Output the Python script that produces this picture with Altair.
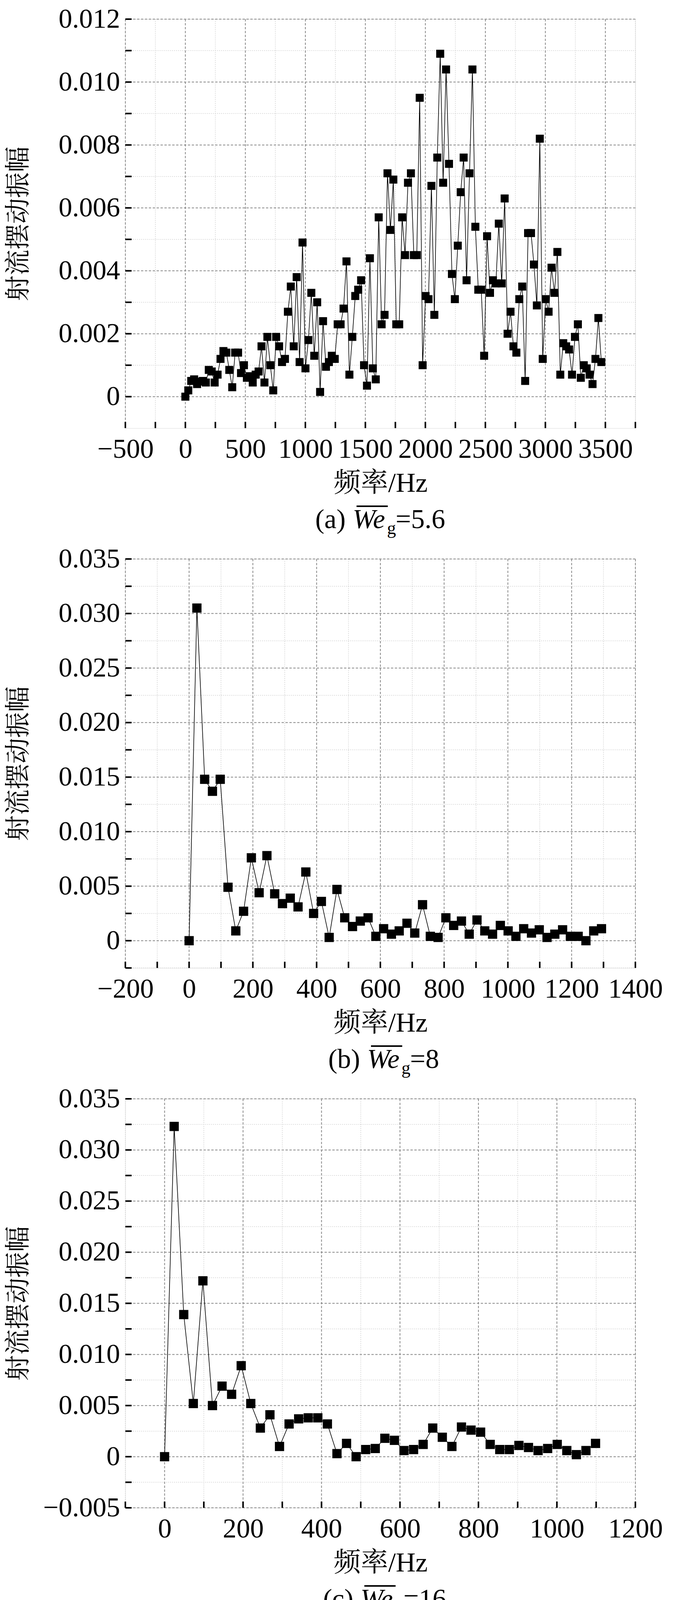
import altair as alt
import numpy as np
import pandas as pd

alt.data_transformers.disable_max_rows()

FONT = "Liberation Serif, Noto Serif CJK SC, Noto Sans CJK SC"
FS = 70
W = 1306
DF_HZ = 24.41  # 频率分辨率

# --- 各工况的射流摆动振幅 ---
amp_56 = [
    0, 0.0002, 0.0005, 0.00055, 0.0004, 0.00048, 0.0005, 0.00045, 0.00085, 0.0008,
    0.00045, 0.0007, 0.0012, 0.00145, 0.0014, 0.00085, 0.0003, 0.0014, 0.0014, 0.00075,
    0.001, 0.0006, 0.00065, 0.00045, 0.0007, 0.0008, 0.0016, 0.00045, 0.0019, 0.001,
    0.0002, 0.0019, 0.0016, 0.0011, 0.0012, 0.0027, 0.0035, 0.0016, 0.0038, 0.0011,
    0.0049, 0.0009,
    0.0018, 0.0033, 0.0013, 0.003, 0.00015, 0.0024, 0.00095, 0.0011, 0.0013, 0.0012,
    0.0023, 0.0023, 0.0028, 0.0043, 0.0007, 0.0019, 0.0032, 0.0034, 0.0037, 0.001,
    0.00035, 0.0044, 0.0009, 0.00055, 0.0057, 0.0023, 0.0026, 0.0071, 0.0053, 0.0069,
    0.0023, 0.0023, 0.0057, 0.0045, 0.0068, 0.0071, 0.0045, 0.0045, 0.0095, 0.001, 0.0032,
    0.0031, 0.0067, 0.0026, 0.0076, 0.0109, 0.0068, 0.0104, 0.0074, 0.0039, 0.0031,
    0.0048, 0.0065, 0.0076, 0.0037, 0.0071, 0.0104, 0.0054, 0.0034, 0.0034, 0.0013,
    0.0051, 0.0033, 0.0037, 0.0036, 0.0055, 0.0036, 0.0063, 0.002, 0.0027, 0.0016,
    0.0014, 0.0031, 0.0035, 0.0005, 0.0052, 0.0052, 0.0042, 0.0029, 0.0082, 0.0012,
    0.0031, 0.0027,
    0.0041, 0.0033, 0.0046, 0.0007, 0.0017, 0.0016, 0.0015, 0.0007, 0.0019, 0.0023,
    0.0006, 0.001, 0.0009, 0.0007, 0.0004, 0.0012, 0.0025, 0.0011,
]
amp_8 = [
    0, 0.0305, 0.0148, 0.0137, 0.0148, 0.0049, 0.0009, 0.0027, 0.0076, 0.0044,
    0.0078, 0.0043, 0.0034, 0.0039, 0.0031, 0.0063, 0.0025, 0.0036, 0.0003, 0.0047,
    0.0021, 0.0013, 0.0018, 0.0021, 0.0004, 0.0011, 0.0006, 0.0009, 0.0016, 0.0007,
    0.0033, 0.0004, 0.0003, 0.0021, 0.0014, 0.0018, 0.0006, 0.0019, 0.0009, 0.0006,
    0.0014, 0.0009, 0.0004, 0.0011, 0.0007, 0.001, 0.0003, 0.0006, 0.001, 0.0004,
    0.0004, 0.0, 0.0009, 0.0011,
]
amp_16 = [
    0, 0.0323, 0.0139, 0.0052, 0.0172, 0.0050, 0.0069, 0.0061, 0.0089, 0.0052,
    0.0028, 0.0041, 0.0010, 0.0032, 0.0037, 0.0038, 0.0038, 0.0032, 0.0003, 0.0013,
    0.0000, 0.0007, 0.0008, 0.0018, 0.0016, 0.0006, 0.0007, 0.0012, 0.0028, 0.0019,
    0.0010, 0.0029, 0.0026, 0.0024, 0.0012, 0.0007, 0.0007, 0.0011, 0.0009, 0.0006,
    0.0008, 0.0012, 0.0006, 0.0002, 0.0006, 0.0013,
]
amp_40 = [
    0, 0.0074, 0.0262, 0.0137, 0.0136, 0.0062, 0.0049, 0.0069, 0.0030, 0.0036,
    0.0009, 0.0048, 0.0096, 0.0027, 0.0085, 0.0087, 0.0061, 0.0044, 0.0052, 0.0060,
    0.0050, 0.0027, 0.0055, 0.0027, 0.0036, 0.0035, 0.0020, 0.0026, 0.0034, 0.0053,
    0.0016, 0.0022, 0.0017, 0.0037, 0.0004, 0.0018, 0.0012, 0.0009, 0.0005, 0.0008,
    0.0008, 0.0001, 0.0019, 0.0017, 0.0003, 0.0018, 0.0012, 0.0011, 0.0007, 0.0009,
    0.0007, 0.0011, 0.0018, 0.0009, 0.0005, 0.0024, 0.0007, 0.0006, 0.0011, 0.0016,
    0.0006, 0.0013, 0.0011, 0.0010, 0.0023, 0.0009, 0.0007, 0.0014, 0.0012, 0.0010,
    0.0015, 0.0009, 0.0005, 0.0001, 0.0009, 0.0014, 0.0017, 0.0006, 0.0015, 0.0012,
    0.0010, 0.0006, 0.0006, 0.0007, 0.0008, 0.0014, 0.0006, 0.0012, 0.0013, 0.0012,
    0.0013, 0.0015, 0.0016,
]

# 图(e)中各曲线延伸到约 3900 Hz 的尾段
tail_56 = [0.0009, 0.0006, 0.0012, 0.0008, 0.0005, 0.0017, 0.0007, 0.0004, 0.0009, 0.0006,
           0.0011, 0.0005, 0.0008, 0.0004, 0.0007, 0.0006, 0.0009, 0.0003, 0.0008]
tail_8 = [
    0.0006, 0.0003, 0.0008, 0.0002, 0.0005, 0.0001, 0.0004, 0.0007, 0.0002, 0.0003,
    0.0005, 0.0001, 0.0004, 0.0002, 0.0006, 0.0003, 0.0001, 0.0004, 0.0002, 0.0005,
    0.0003, 0.0002, 0.0001, 0.0004, 0.0003, 0.0002, 0.0005, 0.0001, 0.0003, 0.0002,
    0.0004, 0.0001, 0.0002, 0.0003, 0.0001, 0.0004, 0.0002, 0.0001, 0.0003, 0.0002,
    0.0001, 0.0003, 0.0002, 0.0004, 0.0001, 0.0002, 0.0003, 0.0001, 0.0002, 0.0004,
    0.0002, 0.0001, 0.0003, 0.0002, 0.0001, 0.0002, 0.0004, 0.0001, 0.0003, 0.0002,
    0.0001, 0.0002, 0.0003, 0.0001, 0.0002, 0.0001, 0.0003, 0.0002, 0.0001, 0.0004,
    0.0002, 0.0001, 0.0002, 0.0003, 0.0001, 0.0002, 0.0001, 0.0003, 0.0002, 0.0001,
    0.0002, 0.0003, 0.0001, 0.0002, 0.0001, 0.0002, 0.0003, 0.0001, 0.0002, 0.0001,
    0.0003, 0.0002, 0.0001, 0.0002, 0.0001, 0.0003, 0.0002, 0.0001, 0.0002, 0.0003,
    0.0001, 0.0002, 0.0001, 0.0002, 0.0003, 0.0002,
]
tail_16 = [
    0.0008, 0.0005, 0.0003, 0.0006, 0.0004, 0.0002, 0.0005, 0.0003, 0.0006, 0.0002,
    0.0004, 0.0003, 0.0005, 0.0002, 0.0004, 0.0003, 0.0002, 0.0005, 0.0003, 0.0004,
    0.0002, 0.0003, 0.0005, 0.0002, 0.0003, 0.0004, 0.0002, 0.0003, 0.0002, 0.0004,
    0.0003, 0.0002, 0.0004, 0.0003, 0.0002, 0.0003, 0.0006, 0.0002, 0.0003, 0.0002,
    0.0004, 0.0003, 0.0002, 0.0003, 0.0002, 0.0004, 0.0002, 0.0003, 0.0002, 0.0003,
    0.0002, 0.0004, 0.0003, 0.0002, 0.0003, 0.0002, 0.0003, 0.0004, 0.0002, 0.0003,
    0.0002, 0.0003, 0.0002, 0.0004, 0.0002, 0.0003, 0.0002, 0.0003, 0.0004, 0.0002,
    0.0003, 0.0002, 0.0003, 0.0002, 0.0004, 0.0003, 0.0002, 0.0003, 0.0002, 0.0003,
    0.0004, 0.0002, 0.0003, 0.0002, 0.0003, 0.0002, 0.0004, 0.0003, 0.0002, 0.0003,
    0.0002, 0.0003, 0.0004, 0.0002, 0.0003, 0.0002, 0.0003, 0.0002, 0.0004, 0.0003,
    0.0002, 0.0003, 0.0002, 0.0003, 0.0004, 0.0002, 0.0003, 0.0002, 0.0003, 0.0002,
    0.0004, 0.0003, 0.0002, 0.0001,
]
tail_40 = [
    0.0012, 0.0006, 0.0009, 0.0004, 0.0011, 0.0007, 0.0013, 0.0005, 0.0008, 0.0010,
    0.0004, 0.0009, 0.0006, 0.0012, 0.0005, 0.0008, 0.0003, 0.0010, 0.0006, 0.0004,
    0.0009, 0.0005, 0.0007, 0.0003, 0.0008, 0.0006, 0.0004, 0.0009, 0.0005, 0.0007,
    0.0003, 0.0006, 0.0008, 0.0004, 0.0005, 0.0007, 0.0003, 0.0006, 0.0004, 0.0008,
    0.0005, 0.0003, 0.0006, 0.0004, 0.0007, 0.0002, 0.0005, 0.0004, 0.0006, 0.0003,
    0.0005, 0.0002, 0.0004, 0.0006, 0.0003, 0.0005, 0.0002, 0.0004, 0.0003, 0.0006,
    0.0002, 0.0004, 0.0003, 0.0005, 0.0002, 0.0004, 0.0003, 0.0005,
]

series_names = ["5.6", "8", "16", "40"]
colors_e = ["#404040", "#e8332a", "#1f6fe0", "#2ca05a"]
shapes_e = ["square", "circle", "triangle-up", "triangle-down"]


def to_df(amp, name):
    return pd.DataFrame({"f": np.arange(len(amp)) * DF_HZ, "a": amp, "s": name})


def rules_x(vals, dash, color, width, H):
    return alt.Chart(pd.DataFrame({"v": vals})).mark_rule(
        strokeDash=dash, color=color, strokeWidth=width
    ).encode(x="v:Q", y=alt.value(0), y2=alt.value(H))


def rules_y(vals, dash, color, width):
    return alt.Chart(pd.DataFrame({"v": vals})).mark_rule(
        strokeDash=dash, color=color, strokeWidth=width
    ).encode(y="v:Q", x=alt.value(0), x2=alt.value(W))


def text_at(t, x, y, size=FS, style="normal", align="left"):
    return alt.Chart(pd.DataFrame({"t": [t]})).mark_text(
        font=FONT, fontSize=size, fontStyle=style, align=align, baseline="alphabetic", color="black"
    ).encode(x=alt.value(x), y=alt.value(y), text="t:N")


def we_label(x0, y, rest, prefix=""):
    """prefix + overlined italic We + subscript g + rest, starting at x0."""
    layers = []
    xw = x0
    if prefix:
        layers.append(text_at(prefix, x0 + 76, y, align="right"))
        xw = x0 + 94
    layers.append(text_at("We", xw, y, style="italic"))
    layers.append(
        alt.Chart(pd.DataFrame({"t": [0]})).mark_rule(color="black", strokeWidth=4).encode(
            x=alt.value(xw + 10), x2=alt.value(xw + 90), y=alt.value(y - 56)
        )
    )
    layers.append(text_at("g", xw + 88, y + 15, size=46))
    layers.append(text_at(rest, xw + 110, y))
    return layers


def panel(dfs, xdom, ydom, xmaj, xmin, ymaj, ymin, H, caption, colors, shapes, sizes):
    xsc = alt.Scale(domain=xdom, nice=False, zero=False)
    ysc = alt.Scale(domain=ydom, nice=False, zero=False)
    xaxis = alt.Axis(values=xmaj, grid=False, ticks=False, domain=False, labelFont=FONT,
                     labelFontSize=FS, labelPadding=20, labelColor="black", format="d",
                     title="频率/Hz", titleFont=FONT, titleFontSize=FS, titleFontWeight="normal",
                     titleColor="black", titlePadding=18, labelFlush=False, labelLimit=400)
    yaxis = alt.Axis(values=ymaj, grid=False, ticks=False, domain=False, labelFont=FONT,
                     labelFontSize=FS, labelPadding=14, labelColor="black",
                     labelExpr="datum.value == 0 ? '0' : format(datum.value, '.3f')",
                     title="射流摆动振幅", titleFont=FONT, titleFontSize=FS - 4,
                     titleFontWeight="normal", titleColor="black", titlePadding=10,
                     minExtent=230, maxExtent=230, labelFlush=False, labelLimit=400)

    base = alt.Chart(pd.DataFrame({"v": [xdom[0]], "w": [ydom[0]]})).mark_point(opacity=0).encode(
        x=alt.X("v:Q", scale=xsc, axis=xaxis), y=alt.Y("w:Q", scale=ysc, axis=yaxis)
    )
    layers = [base,
              rules_x(xmin, [2, 3], "#c8c8c8", 1.5, H), rules_y(ymin, [2, 3], "#c8c8c8", 1.5),
              rules_x(xmaj, [6, 4], "#8a8a8a", 2, H), rules_y(ymaj, [6, 4], "#8a8a8a", 2)]
    # 内向刻度
    allx = sorted(list(xmaj) + list(xmin))
    ally = sorted(list(ymaj) + list(ymin))
    layers.append(alt.Chart(pd.DataFrame({"v": allx})).mark_rule(color="black", strokeWidth=4).encode(
        x="v:Q", y=alt.value(H), y2=alt.value(H - 16)))
    layers.append(alt.Chart(pd.DataFrame({"v": ally})).mark_rule(color="black", strokeWidth=4).encode(
        y="v:Q", x=alt.value(0), x2=alt.value(16)))
    for df, c, sh, sz in zip(dfs, colors, shapes, sizes):
        layers.append(alt.Chart(df).mark_line(color=c, strokeWidth=1.6, clip=True).encode(
            x=alt.X("f:Q", scale=xsc), y=alt.Y("a:Q", scale=ysc)))
        layers.append(alt.Chart(df).mark_point(shape=sh, filled=True, opacity=1, color=c, size=sz,
                                               clip=True).encode(
            x=alt.X("f:Q", scale=xsc), y=alt.Y("a:Q", scale=ysc)))
    layers += caption
    return alt.layer(*layers).properties(width=W, height=H)


def arange(a, b, s):
    return [round(v, 6) for v in np.arange(a, b + s / 2, s)]


HA = 1047
cap_y = lambda H: H + 256

pa = panel([to_df(amp_56, "5.6")], [-500, 3750], [-0.001, 0.012],
           arange(-500, 3500, 500), arange(-250, 3750, 500),
           arange(0, 0.012, 0.002), arange(0.001, 0.011, 0.002), HA,
           we_label(W / 2 - 165, cap_y(HA), "=5.6", "(a)"),
           ["black"], ["square"], [420])
pb = panel([to_df(amp_8, "8")], [-200, 1400], [-0.0025, 0.035],
           arange(-200, 1400, 200), arange(-100, 1300, 200),
           arange(0, 0.035, 0.005), arange(-0.0025, 0.0325, 0.005), HA,
           we_label(W / 2 - 128, cap_y(HA), "=8", "(b)"),
           ["black"], ["square"], [560])
pc = panel([to_df(amp_16, "16")], [-100, 1200], [-0.005, 0.035],
           arange(0, 1200, 200), arange(-100, 1100, 200),
           arange(-0.005, 0.035, 0.005), arange(-0.0025, 0.0325, 0.005), HA,
           we_label(W / 2 - 145, cap_y(HA), "=16", "(c)"),
           ["black"], ["square"], [560])
pd_ = panel([to_df(amp_40, "40")], [-250, 2500], [-0.0025, 0.030],
            arange(0, 2500, 500), arange(-250, 2250, 500),
            arange(0, 0.030, 0.005), arange(-0.0025, 0.0275, 0.005), HA,
            we_label(W / 2 - 145, cap_y(HA), "=40", "(d)"),
            ["black"], ["square"], [560])

# --- (e) 合图 ---
HE = 1028
dfs_e = [to_df(amp_56 + tail_56, "5.6"), to_df(amp_8 + tail_8, "8"),
         to_df(amp_16 + tail_16, "16"), to_df(amp_40 + tail_40, "40")]
legend = [alt.Chart(pd.DataFrame({"t": [0]})).mark_rect(color="white").encode(
    x=alt.value(866), x2=alt.value(1250), y=alt.value(8), y2=alt.value(420))]
for i, (nm, c, sh) in enumerate(zip(series_names, colors_e, shapes_e)):
    yy = 72 + i * 95
    legend.append(alt.Chart(pd.DataFrame({"t": [0]})).mark_rule(color=c, strokeWidth=2).encode(
        x=alt.value(868), x2=alt.value(993), y=alt.value(yy)))
    legend.append(alt.Chart(pd.DataFrame({"t": [0]})).mark_point(
        shape=sh, filled=True, opacity=1, color=c, size=420).encode(x=alt.value(931), y=alt.value(yy)))
    legend += we_label(1008, yy + 26, "=" + nm)
cx = W / 2 - 175
cap_e = [text_at("(e)", cx + 76, cap_y(HE), align="right"),
         text_at("k", cx + 94, cap_y(HE), style="italic"),
         text_at("=\u22121 000", cx + 126, cap_y(HE))]
pe = panel(dfs_e, [-500, 4500], [-0.005, 0.0367],
           arange(0, 4000, 1000), arange(500, 4000, 1000),
           arange(-0.005, 0.035, 0.005), arange(-0.0025, 0.0325, 0.005), HE,
           legend + cap_e, colors_e, shapes_e, [300, 300, 330, 330])

chart = alt.vconcat(pa, pb, pc, pd_, pe, spacing=18).configure_view(
    stroke="black", strokeWidth=4
).configure(background="white")

chart.save("out.html", embed_options={"renderer": "svg", "actions": False})
